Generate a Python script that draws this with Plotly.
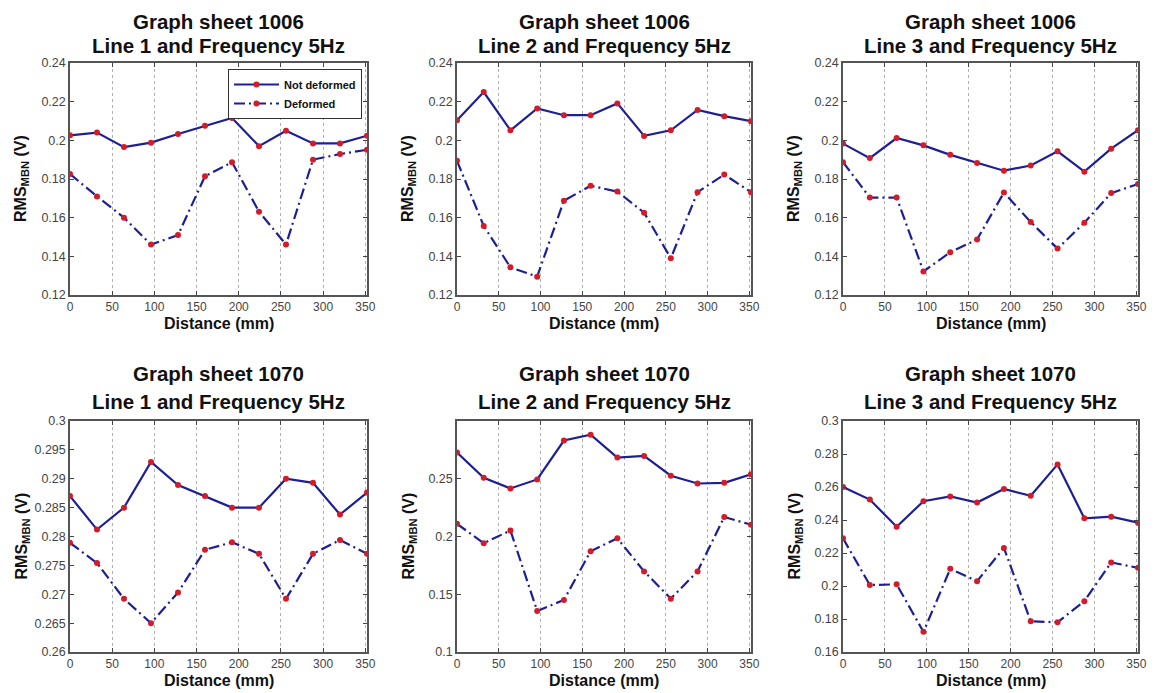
import plotly.graph_objects as go

# ---------------- data ----------------
distance = [0, 32, 64, 96, 128, 160, 192, 224, 256, 288, 320, 352]

titles_line1 = ["Graph sheet 1006", "Graph sheet 1006", "Graph sheet 1006",
                "Graph sheet 1070", "Graph sheet 1070", "Graph sheet 1070"]
titles_line2 = ["Line 1 and Frequency 5Hz", "Line 2 and Frequency 5Hz", "Line 3 and Frequency 5Hz",
                "Line 1 and Frequency 5Hz", "Line 2 and Frequency 5Hz", "Line 3 and Frequency 5Hz"]

not_def_1006_l1 = [0.2026, 0.2040, 0.1965, 0.1988, 0.2033, 0.2075, 0.2116, 0.1970, 0.2049, 0.1984, 0.1984, 0.2024]
def_1006_l1 = [0.1826, 0.1710, 0.1600, 0.1461, 0.1510, 0.1814, 0.1887, 0.1631, 0.1461, 0.1900, 0.1929, 0.1951]

not_def_1006_l2 = [0.2104, 0.2250, 0.2052, 0.2165, 0.2130, 0.2130, 0.2191, 0.2023, 0.2052, 0.2157, 0.2125, 0.2099]
def_1006_l2 = [0.1894, 0.1557, 0.1343, 0.1295, 0.1688, 0.1765, 0.1735, 0.1626, 0.1390, 0.1732, 0.1823, 0.1732]

not_def_1006_l3 = [0.1983, 0.1908, 0.2012, 0.1974, 0.1925, 0.1883, 0.1843, 0.1870, 0.1943, 0.1838, 0.1957, 0.2052]
def_1006_l3 = [0.1887, 0.1704, 0.1704, 0.1322, 0.1421, 0.1487, 0.1730, 0.1577, 0.1440, 0.1574, 0.1727, 0.1774]

not_def_1070_l1 = [0.2870, 0.2812, 0.2850, 0.2929, 0.2889, 0.2870, 0.2850, 0.2850, 0.2900, 0.2893, 0.2838, 0.2876]
def_1070_l1 = [0.2789, 0.2754, 0.2692, 0.2650, 0.2703, 0.2777, 0.2790, 0.2770, 0.2692, 0.2770, 0.2794, 0.2770]

not_def_1070_l2 = [0.2727, 0.2509, 0.2416, 0.2494, 0.2831, 0.2881, 0.2683, 0.2698, 0.2526, 0.2459, 0.2465, 0.2538]
def_1070_l2 = [0.2110, 0.1942, 0.2052, 0.1355, 0.1451, 0.1872, 0.1985, 0.1698, 0.1462, 0.1698, 0.2169, 0.2102]

not_def_1070_l3 = [0.2600, 0.2524, 0.2359, 0.2514, 0.2543, 0.2506, 0.2588, 0.2547, 0.2737, 0.2410, 0.2420, 0.2384]
def_1070_l3 = [0.2289, 0.2006, 0.2010, 0.1722, 0.2104, 0.2029, 0.2231, 0.1786, 0.1780, 0.1908, 0.2143, 0.2110]

x_tick_vals = [0, 50, 100, 150, 200, 250, 300, 350]
x_tick_text = ["0", "50", "100", "150", "200", "250", "300", "350"]

y_ticks_1006 = [0.12, 0.14, 0.16, 0.18, 0.20, 0.22, 0.24]
y_text_1006 = ["0.12", "0.14", "0.16", "0.18", "0.2", "0.22", "0.24"]
y_ticks_1070_l1 = [0.26, 0.265, 0.27, 0.275, 0.28, 0.285, 0.29, 0.295, 0.30]
y_text_1070_l1 = ["0.26", "0.265", "0.27", "0.275", "0.28", "0.285", "0.29", "0.295", "0.3"]
y_ticks_1070_l2 = [0.10, 0.15, 0.20, 0.25]
y_text_1070_l2 = ["0.1", "0.15", "0.2", "0.25"]
y_ticks_1070_l3 = [0.16, 0.18, 0.20, 0.22, 0.24, 0.26, 0.28, 0.30]
y_text_1070_l3 = ["0.16", "0.18", "0.2", "0.22", "0.24", "0.26", "0.28", "0.3"]

series_not = [not_def_1006_l1, not_def_1006_l2, not_def_1006_l3,
              not_def_1070_l1, not_def_1070_l2, not_def_1070_l3]
series_def = [def_1006_l1, def_1006_l2, def_1006_l3,
              def_1070_l1, def_1070_l2, def_1070_l3]
y_ranges = [[0.12, 0.24], [0.12, 0.24], [0.12, 0.24], [0.26, 0.30], [0.10, 0.30], [0.16, 0.30]]
y_tickvals = [y_ticks_1006, y_ticks_1006, y_ticks_1006, y_ticks_1070_l1, y_ticks_1070_l2, y_ticks_1070_l3]
y_ticktexts = [y_text_1006, y_text_1006, y_text_1006, y_text_1070_l1, y_text_1070_l2, y_text_1070_l3]

# ---------------- layout geometry (page pixels; page body has an 8px margin) ----------------
OFF = 8
W, H = 1166 - OFF, 693 - OFF
col_px = [(70, 367), (457, 751), (843, 1138)]
row_px = [(63, 295), (421, 652)]
title_y_px = [(17, 45), (373, 401)]
xtitle_y_px = [323, 680]
ytitle_x_off = 48  # distance of y title centre left of plot edge


def px_x(v):
    return (v - OFF) / W


def px_y(v):
    return 1 - (v - OFF) / H


LINE_COLOR = "#1c1f96"
MARKER_COLOR = "#d21c2a"
FONT = "Liberation Sans, Arial, sans-serif"

fig = go.Figure()
layout = dict(
    width=W, height=H,
    margin=dict(l=0, r=0, t=0, b=0),
    paper_bgcolor="white", plot_bgcolor="white",
    font=dict(family=FONT, color="#222"),
    showlegend=True,
    legend=dict(
        x=px_x(362), y=px_y(69), xanchor="right", yanchor="top",
        bgcolor="white", bordercolor="#333", borderwidth=1,
        font=dict(family=FONT, size=11, color="#111", weight="bold"),
        itemwidth=45, tracegroupgap=0,
    ),
)

annotations = []
for i in range(6):
    r, c = divmod(i, 3)
    x0, x1 = col_px[c]
    y0, y1 = row_px[r]
    ax = "" if i == 0 else str(i + 1)
    xa, ya = "xaxis" + ax, "yaxis" + ax
    layout[xa] = dict(
        domain=[px_x(x0), px_x(x1)], anchor="y" + ax, range=[0, 352],
        tickvals=x_tick_vals, ticktext=x_tick_text,
        ticks="inside", ticklen=4, tickcolor="#444",
        showline=True, linecolor="#555", linewidth=1.5, mirror="ticks",
        showgrid=True, gridcolor="#b0b0b0", griddash="dot", gridwidth=1,
        zeroline=False, tickfont=dict(size=12, color="#444"),
        automargin=False, fixedrange=True,
    )
    layout[ya] = dict(
        domain=[px_y(y1), px_y(y0)], anchor="x" + ax, range=y_ranges[i],
        tickvals=y_tickvals[i], ticktext=y_ticktexts[i],
        ticks="inside", ticklen=4, tickcolor="#444",
        showline=True, linecolor="#555", linewidth=1.5, mirror="ticks",
        showgrid=False, zeroline=False,
        tickfont=dict(size=12.5, color="#444"),
        automargin=False, fixedrange=True,
    )
    xcen = px_x((x0 + x1) / 2)
    for k, txt in enumerate([titles_line1[i], titles_line2[i]]):
        if r == 0 and k == 0:
            ypos, yanc = px_y(OFF), "top"
        else:
            ypos, yanc = px_y(title_y_px[r][k]), "middle"
        annotations.append(dict(
            text=txt, x=xcen, y=ypos, xref="paper", yref="paper",
            xanchor="center", yanchor=yanc, showarrow=False,
            font=dict(size=20.5, color="#111", weight="bold", family=FONT),
        ))
    annotations.append(dict(
        text="Distance (mm)", x=xcen, y=px_y(xtitle_y_px[r]), xref="paper", yref="paper",
        xanchor="center", yanchor="middle", showarrow=False,
        font=dict(size=16, color="#111", weight="bold", family=FONT),
    ))
    annotations.append(dict(
        text="RMS<sub>MBN</sub> (V)", x=px_x(x0 - ytitle_x_off), y=px_y((y0 + y1) / 2),
        xref="paper", yref="paper", xanchor="center", yanchor="middle",
        showarrow=False, textangle=-90,
        font=dict(size=16, color="#111", weight="bold", family=FONT),
    ))

    fig.add_trace(go.Scatter(
        x=distance, y=series_not[i], mode="lines+markers", name="Not deformed",
        xaxis="x" + ax, yaxis="y" + ax, showlegend=(i == 0),
        line=dict(color=LINE_COLOR, width=2.2),
        marker=dict(color=MARKER_COLOR, size=6),
    ))
    fig.add_trace(go.Scatter(
        x=distance, y=series_def[i], mode="lines+markers", name="Deformed",
        xaxis="x" + ax, yaxis="y" + ax, showlegend=(i == 0),
        line=dict(color=LINE_COLOR, width=2.2, dash="11px,4px,2px,4px"),
        marker=dict(color=MARKER_COLOR, size=6),
    ))

layout["annotations"] = annotations
fig.update_layout(**layout)
fig.write_html("out.html")
